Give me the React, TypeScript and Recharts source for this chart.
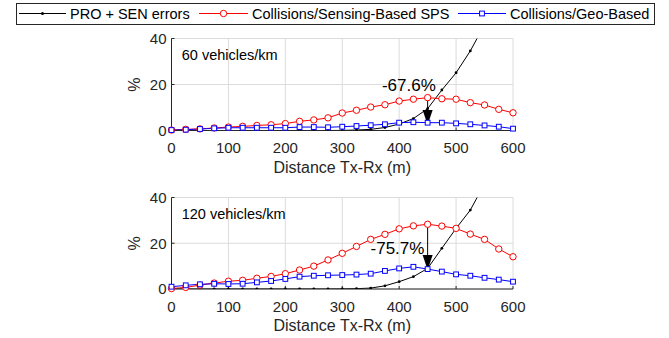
import { LineChart, Line, XAxis, YAxis, CartesianGrid, ReferenceLine, ReferenceDot } from "recharts";

const FONT = '"Liberation Sans", Arial, Helvetica, sans-serif';
const INK = "#262626";
const RED = "#ff0000";
const BLUE = "#0000ff";
const GRID = "#dcdcdc";

// Distance Tx-Rx (m), one sample every 25 m
const distances = [0, 25, 50, 75, 100, 125, 150, 175, 200, 225, 250, 275, 300, 325, 350, 375, 400, 425, 450, 475, 500, 525, 550, 575, 600];
const xTicks = [0, 100, 200, 300, 400, 500, 600];
const yTicks = [0, 20, 40];

// 60 vehicles/km (%)
const pro60 = [0, 0, 0, 0, 0, 0, 0, 0, 0, 0, 0, 0, 0.05, 0.2, 0.5, 1.3, 2.8, 5.2, 9.5, 17.6, 25.1, 34.6, 46, null, null];
const sps60 = [0.2, 0.5, 0.7, 1.1, 1.5, 1.8, 2.2, 2.5, 3.0, 4.0, 4.6, 5.5, 7.6, 8.8, 10.2, 11.2, 12.8, 13.6, 14.3, 13.8, 13.6, 12.1, 11.1, 9.2, 7.7];
const geo60 = [0.2, 0.35, 0.65, 0.95, 1.2, 1.2, 1.2, 1.2, 1.2, 1.5, 1.5, 1.4, 1.65, 1.95, 2.3, 2.7, 3.4, 3.6, 3.4, 3.4, 3.1, 2.7, 2.2, 1.65, 0.8];

// 120 vehicles/km (%)
const pro120 = [0, 0, 0, 0, 0, 0, 0, 0, 0, 0, 0, 0, 0.05, 0.15, 0.4, 1.4, 3.2, 5.4, 9.0, 17.8, 26.5, 34.5, 46, null, null];
const sps120 = [0.2, 0.7, 1.7, 2.6, 3.4, 3.8, 4.7, 5.5, 6.7, 8.3, 10.0, 12.7, 15.6, 18.6, 21.7, 23.9, 26.3, 27.6, 28.3, 27.5, 26.5, 24.0, 21.7, 17.5, 14.1];
const geo120 = [1.0, 1.6, 2.05, 2.3, 2.2, 2.3, 2.9, 3.5, 4.4, 5.4, 5.8, 6.0, 6.1, 6.3, 6.7, 7.9, 9.0, 9.7, 8.7, 7.6, 6.4, 5.8, 4.9, 4.1, 3.2];

// annotations: arrow at 450 m, from the SPS curve down to its tip
const ARROW_AT = 450;
const ARROW_IDX = distances.indexOf(ARROW_AT);

const tickStyle = { fill: INK, fontSize: 15, fontFamily: FONT };

function Arrow(p: any) {
  const { x1, y1, x2, y2 } = p;
  const head = 15;
  const half = 5;
  return (
    <g>
      <line x1={x1} y1={y1} x2={x2} y2={y2 - head} stroke="#000" strokeWidth={1} />
      <polygon points={`${x2 - half},${y2 - head} ${x2 + half},${y2 - head} ${x2},${y2}`} fill="#000" />
    </g>
  );
}

function GeoSquare(p: any) {
  if (p.cx == null || p.cy == null) return <g key={`sq-${p.index}`} />;
  const s = 4.8;
  return (
    <rect
      key={`sq-${p.index}`}
      x={p.cx - s / 2}
      y={p.cy - s / 2}
      width={s}
      height={s}
      fill="#fff"
      stroke={BLUE}
      strokeWidth={1}
    />
  );
}

interface PanelProps {
  pro: (number | null)[];
  sps: number[];
  geo: number[];
  density: string;
  gain: string;
  gainAt: { x: number; y: number };
  arrowTip: number;
  height: number;
  top: number;
}

function Panel({ pro, sps, geo, density, gain, gainAt, arrowTip, height, top }: PanelProps) {
  const rows = distances.map((d, i) => ({ d, pro: pro[i], sps: sps[i], geo: geo[i] }));
  return (
    <LineChart width={669} height={height} data={rows} margin={{ top, right: 156, bottom: 0, left: 0 }}>
      <CartesianGrid stroke={GRID} strokeWidth={1} />
      <XAxis
        dataKey="d"
        type="number"
        domain={[0, 600]}
        ticks={xTicks}
        height={49}
        tickSize={-3}
        tickMargin={15}
        stroke={INK}
        tick={tickStyle}
        label={{ value: "Distance Tx-Rx (m)", position: "insideTop", offset: 31, fontSize: 16, fill: INK, fontFamily: FONT }}
      />
      <XAxis xAxisId="top" orientation="top" type="number" domain={[0, 600]} ticks={xTicks} height={0} tick={false} tickSize={-3} stroke={INK} />
      <YAxis type="number" domain={[0, 40]} ticks={yTicks} width={171.5} tickSize={-3} tickMargin={8} stroke={INK} tick={tickStyle} />
      <YAxis yAxisId="r" orientation="right" type="number" domain={[0, 40]} ticks={yTicks} width={0} tick={false} tickSize={-3} stroke={INK} />
      <YAxis yAxisId="clip" hide type="number" domain={[0, 40]} allowDataOverflow />

      <Line
        yAxisId="clip"
        type="linear"
        dataKey="pro"
        stroke="#000"
        strokeWidth={1}
        dot={{ r: 1.4, fill: "#000", stroke: "none" }}
        isAnimationActive={false}
      />
      <Line
        type="linear"
        dataKey="sps"
        stroke={RED}
        strokeWidth={1}
        dot={{ r: 3.2, fill: "#fff", stroke: RED, strokeWidth: 1 }}
        isAnimationActive={false}
      />
      <Line type="linear" dataKey="geo" stroke={BLUE} strokeWidth={1} dot={GeoSquare} isAnimationActive={false} />

      <ReferenceLine
        segment={[
          { x: ARROW_AT, y: sps[ARROW_IDX] },
          { x: ARROW_AT, y: arrowTip },
        ]}
        shape={Arrow}
      />
      <ReferenceDot
        x={18}
        y={33}
        r={0}
        shape={(p: any) => (
          <text x={p.cx} y={p.cy + 5.2} fontSize={14.5} fontFamily={FONT} fill="#000">
            {density}
          </text>
        )}
      />
      <ReferenceDot
        x={gainAt.x}
        y={gainAt.y}
        r={0}
        shape={(p: any) => (
          <text x={p.cx} y={p.cy + 6.1} textAnchor="middle" fontSize={17} fontFamily={FONT} fill="#000">
            {gain}
          </text>
        )}
      />
    </LineChart>
  );
}

function Legend() {
  const y = 13.5;
  return (
    <svg width={669} height={338} style={{ position: "absolute", left: 0, top: 0, pointerEvents: "none" }}>
      <rect x={16.5} y={3.5} width={638} height={21} fill="#fff" stroke={INK} strokeWidth={1} />
      <line x1={19} y1={y} x2={66} y2={y} stroke="#000" strokeWidth={1} />
      <circle cx={42.5} cy={y} r={1.5} fill="#000" />
      <text x={70} y={18.6} fontSize={14.5} fontFamily={FONT} fill="#000">PRO + SEN errors</text>

      <line x1={199} y1={y} x2={248} y2={y} stroke={RED} strokeWidth={1} />
      <circle cx={223.5} cy={y} r={3.2} fill="#fff" stroke={RED} strokeWidth={1} />
      <text x={252} y={18.6} fontSize={14.5} fontFamily={FONT} fill="#000">Collisions/Sensing-Based SPS</text>

      <line x1={458} y1={y} x2={506} y2={y} stroke={BLUE} strokeWidth={1} />
      <rect x={479.6} y={y - 2.4} width={4.8} height={4.8} fill="#fff" stroke={BLUE} strokeWidth={1} />
      <text x={510} y={18.6} fontSize={14.5} fontFamily={FONT} fill="#000">Collisions/Geo-Based</text>

      <text transform="rotate(-90 134 84.5)" x={134} y={84.5 + 5.6} textAnchor="middle" fontSize={16} fontFamily={FONT} fill={INK}>%</text>
      <text transform="rotate(-90 134 243.3)" x={134} y={243.3 + 5.6} textAnchor="middle" fontSize={16} fontFamily={FONT} fill={INK}>%</text>
    </svg>
  );
}

export default function App() {
  return (
    <div style={{ position: "absolute", left: 0, top: 0, width: 669, height: 338, background: "#fff", fontFamily: FONT }}>
      <div style={{ position: "absolute", left: 0, top: 0 }}>
        <Panel
          pro={pro60}
          sps={sps60}
          geo={geo60}
          density="60 vehicles/km"
          gain="-67.6%"
          gainAt={{ x: 417, y: 19.8 }}
          arrowTip={2.4}
          height={179.5}
          top={38.5}
        />
      </div>
      <div style={{ position: "absolute", left: 0, top: 180 }}>
        <Panel
          pro={pro120}
          sps={sps120}
          geo={geo120}
          density="120 vehicles/km"
          gain="-75.7%"
          gainAt={{ x: 397, y: 17.8 }}
          arrowTip={8.3}
          height={158}
          top={17.5}
        />
      </div>
      <Legend />
    </div>
  );
}
